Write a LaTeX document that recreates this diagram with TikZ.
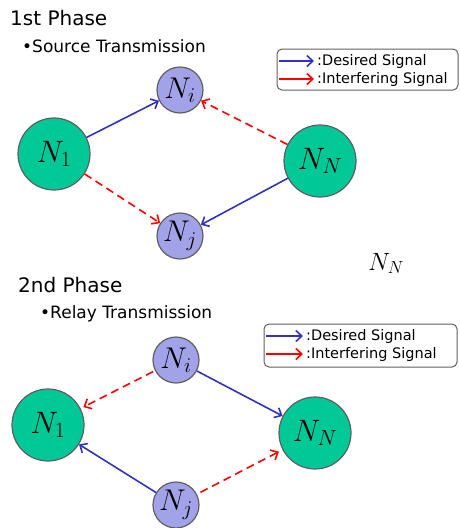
\RequirePackage{fix-cm}
\documentclass[tikz,border=0pt]{standalone}
\usepackage{fontspec}
\setmainfont{DejaVu Sans}
\usetikzlibrary{arrows.meta}
\definecolor{termgreen}{RGB}{0,200,150}
\definecolor{relaylilac}{RGB}{162,162,232}
\definecolor{rimgray}{RGB}{95,95,95}
\definecolor{sigblue}{RGB}{50,50,190}
\definecolor{sigred}{RGB}{255,0,0}
\begin{document}
\begin{tikzpicture}[x=1pt,y=-1pt,>={Straight Barb[length=6pt,width=11pt]},
    term/.style={circle,draw=rimgray,line width=1.2pt,fill=termgreen,minimum size=72pt,inner sep=0pt,font=\fontsize{31}{36}\selectfont},
    relay/.style={circle,draw=rimgray,line width=1.2pt,fill=relaylilac,minimum size=46pt,inner sep=0pt,font=\fontsize{30}{34}\selectfont},
    want/.style={->,sigblue,line width=1.6pt},
    noise/.style={->,sigred,line width=1.6pt,dash pattern=on 8pt off 5pt},
    keybox/.style={draw=rimgray,line width=1pt,rounded corners=5pt},
    keytext/.style={anchor=base west,inner sep=0pt,font=\fontsize{14.5}{17}\selectfont},
    phase/.style={anchor=base west,inner sep=0pt,font=\fontsize{20}{24}\selectfont},
    bullet/.style={anchor=base west,inner sep=0pt,font=\fontsize{17}{20}\selectfont}]
        \useasboundingbox (0,0) rectangle (460,528);
        \node[phase] (phaseone) at (10,25) {1st Phase};
        \node[bullet] (source) at (22,52) {•Source Transmission};
        \node[term] (aone) at (54,154) {$N_1$};
        \node[relay] (ai) at (180,90) {$N_i$};
        \node[relay] (aj) at (180,236) {$N_j$};
        \node[term] (aN) at (320,161) {$N_N$};
        \draw[want] (aone) -- (ai);
        \draw[noise] (aN) -- (ai);
        \draw[noise] (aone) -- (aj);
        \draw[want] (aN) -- (aj);
        \draw[keybox] (277,49) rectangle (458,90);
        \node[keytext] (desone) at (317,65) {:Desired Signal};
        \node[keytext] (intone) at (317,83) {:Interfering Signal};
        \draw[want,shorten >=3pt] ([xshift=-38pt]desone.west) -- (desone.west);
        \draw[noise,solid,shorten >=3pt] ([xshift=-38pt]intone.west) -- (intone.west);
        \node[anchor=base west,inner sep=0pt,font=\fontsize{25}{30}\selectfont] (spare) at (368,270) {$N_N$};
        \node[phase] (phasetwo) at (18,292) {2nd Phase};
        \node[bullet] (relaying) at (40,318) {•Relay Transmission};
        \node[term] (bone) at (48,425) {$N_1$};
        \node[relay] (bi) at (176,360) {$N_i$};
        \node[relay] (bj) at (176,505) {$N_j$};
        \node[term] (bN) at (315,433) {$N_N$};
        \draw[noise,shorten <=2pt,shorten >=3pt] (bi) -- (bone);
        \draw[want] (bi) -- (bN);
        \draw[want] (bj) -- (bone);
        \draw[noise,shorten <=4pt,shorten >=4pt] (bj) -- (bN);
        \draw[keybox] (264,324) rectangle (457,367);
        \node[keytext] (destwo) at (306,340) {:Desired Signal};
        \node[keytext] (inttwo) at (306,358) {:Interfering Signal};
        \draw[want,shorten >=3pt] ([xshift=-40pt]destwo.west) -- (destwo.west);
        \draw[noise,solid,shorten >=3pt] ([xshift=-40pt]inttwo.west) -- (inttwo.west);
\end{tikzpicture}
\end{document}
